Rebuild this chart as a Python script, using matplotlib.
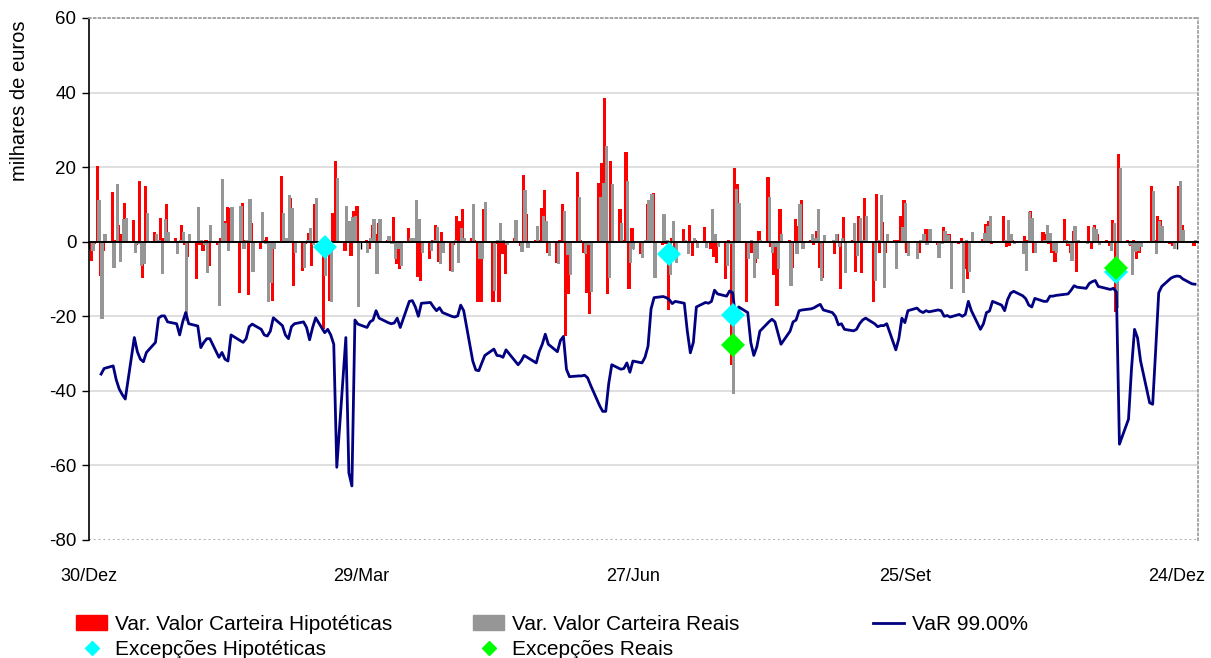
import matplotlib
matplotlib.use("Agg")
import matplotlib.pyplot as plt
import matplotlib.dates as mdates
import matplotlib.transforms as mtransforms
from matplotlib.lines import Line2D
from matplotlib.patches import Patch
import numpy as np
import pandas as pd

plt.rcParams["font.family"] = ["Liberation Sans", "DejaVu Sans"]
plt.rcParams["axes.unicode_minus"] = False

# daily portfolio value changes (thousands of euros), one value per business day
hyp_pnl = [
    -5.2, -0.5, 20.4, -9.2, -2.5, 13.2, 0.5, 4.4, 2, 10.4, 5.8, -1, 16.3, -9.6, 14.9, 2.5, 0, 6.4, 1, 10, 1, 0, 4.5, -1, -4, -9.9, -1, -2.5, 0.5, -6.5, -1, 1, 5.6, 9.3,
    9.1, -13.7, 10.4, 0.5, -14.4, 5, -2, 0.5, 1.3, -7.9, -15.9, 17.6, 0.5, 1, 11.8, -11.9, -7.9, -0.5, 2.4, -6.5, 10, -23.5, -3, -16, 7.6, 21.6, -2.5, 1, -3.8, 8.2, 9.6, 0.5, -2,
    4.6, 2, 5.1, 0.5, 0.3, 6.6, -6.1, -7.4, 3.8, 0.5, 1, -9.5, -10.5, -4.7, 0.5, 4.6, -5.4, 2.6, -7.9, -1, 7, 5.5, 8.7, 1, 0.5, -16.3, -16.3, 8.8, -16.3, -0.5, -16.3, -3.2, -8.6,
    1, -0.3, -1.2, 17.8, 7.3, 0.5, 0.5, 9.1, 13.8, -2.9, -5.6, 0.5, 10, -25.3, -14.1, 18.7, 0.5, -2.9, -13.8, -19.5, 15.8, 21.2, 38.6, -14.1, 21.6, 8.7, 0.5, 24, -12.8, 3.8, -3.4, 0.3, 10,
    0.5, 13.1, -1, -0.5, -18.4, 1, -4.7, 3.3, 0, 4.6, -3.8, 0.5, 4, 0.3, -2, -4, -5.6, -10, 0.5, -33.1, 19.8, 15.4, -16.3, -3, -2.9, -5.6, 2.9, 17.4, -1.5, -9, -17.2, 8.7, 0.5,
    -7, 6.2, 4.2, 11.1, 0.5, -1, 2.9, -7, -9.6, 0.3, -3.4, 2, -12.8, 6.6, 0.5, -8.1, 7, -8.3, 11.8, -16.2, 12.9, -2.9, 5.3, -2.9, 0.5, 0.5, 6.9, 11.1, -3.1, 0.3, -2.9, 0.5, 3.3,
    3.3, -1, 0.3, 4, 2, 2, -0.5, 1, -7.2, -10.1, 0.3, 0.3, 0.6, 4.8, 5.5, -0.7, 0.3, 6.9, -1.4, -1.2, 0.5, 0.3, 1.5, 0.5, 8.2, -2.9, 2.6, 2.2, -0.5, -2.9, -5.4, 6, -1.2,
    -3, 2.9, -8.1, 0.3, 4.2, -1.9, 4.6, 2.1, 0.5, -1.2, 5.7, -18.8, 23.4, 0.5, -1.2, 0.5, -4.6, -2.9, 0.3, 14.9, 0.5, 6.9, 5.8, -0.5, -1.2, 0.3, 14.9, 4.4, 0.3, -1.2,
]
real_pnl = [
    -2.5, 0.3, 11.3, -20.6, 2, -7, 15.5, -5.5, 6.2, 6.4, -3, -0.5, -6.5, -6, 7.6, 2, 0.5, -8.6, 6, 2.5, -3.4, 0.5, 2.5, -21.2, 2, 9.4, 0.5, -1, -8.3, 4.6, -17.2, 16.7, 5, -2.5,
    9.4, 9.7, -1.9, 0.5, 11.5, -8.1, 7.9, -0.5, -16.3, -11, -2, 7.6, 1, 12.4, 9.1, -3, -7, 0.5, 3.8, -1, 11.8, -9.2, 0.5, -16.2, 0, 17.1, 9.6, 5.5, 6.7, 7, -17.4, -3, 1,
    6.2, -8.6, 6.2, 1.5, -0.5, -4.7, -2, -6.5, 1, 1, 11.1, 6.2, -3, -2.5, 0.5, 4, -6, -3, -8.1, 0.5, -5.6, 3.8, 1, 10, 0.3, -4.7, -4.7, 10.6, -13.2, 0.5, 5, 0.5, -1,
    5.8, 0.3, -2.8, 13.8, -1.8, 4.2, 0, 6.9, 5.6, -3.8, -6.1, 0.3, 8.2, -3.5, -8.8, 12.1, 0.3, -3.4, -1, -13.5, 12.1, 15.8, 25.6, -9.6, 15.4, 5.1, 0.3, 16.3, -5.6, -2, -4.3, 0.5, 11.3,
    12.7, -9.6, 7.3, 0.5, -8.8, 5.5, -5.6, 0.5, -3.4, 0, 1, -1.6, -1.6, 0.3, 8.9, 2, -1.5, -6.5, -0.5, -40.9, 14.2, 10.3, -4.7, 0.5, -9.6, -4.7, 0.5, 12.1, -2.9, -1.5, -7.4, 2, -11.9,
    0.3, -3.2, 10, -2, 2, 1, 8.7, -10.5, 1.7, 0.5, 2, -1.5, 1, -8.3, 5.1, -3.8, 6.4, 0.5, 6.9, -10.5, 0.5, 12.4, -12.3, 2.2, -7.4, 0.3, 4, 10.4, -3.8, -4.7, 0.5, 2.2, -1,
    3.3, -4.3, -0.5, 2.9, 1.8, -12.6, -0.3, -13.8, 0.5, -8.1, 2.6, 0.2, 2.4, 4.2, 6.9, 0.3, 0.2, 0.5, 5.8, 2, -0.5, -3.4, -7.9, 7.9, 6.4, -2.9, 0.5, 4.6, 2.4, -2.5, -2.9, 0.5, -0.5,
    -5.2, 4.2, 0.5, -0.5, 0.3, 4, 3.3, -1, 0.3, -2.5, 5.1, -17.7, 19.8, -1, -8.8, -2.7, -2.5, -1.5, 0.2, 13.6, -3.4, 5.5, 4.2, 0.3, -2, 0.2, 16.3, 3.1, 0.2, 0.5,
]
var_99 = [
    None, None, None, -35.5, -34, -33.3, -37, -39.5, -41, -42.2, -25.7, -29.5, -31.5, -32.2, -29.7, -27, -20.5, -19.9, -19.9, -21.5, -22, -25, -21.5, -19, -22, -22.6, -28.4, -27, -26, -26, -31, -29.7, -31.5, -32,
    -25, -26.5, -27, -26, -22.8, -22.1, -23.5, -25, -25.3, -24, -20.4, -22.5, -25, -26, -22.8, -22, -21.5, -23, -26.3, -23, -20.4, -24.4, -23.5, -25, -27.5, -60.5, -25.7, -62, -65.5, -21, -22.1, -23, -21.5,
    -21, -18.5, -20.5, -21.7, -22, -21.8, -20.5, -23, -16, -15.8, -17.5, -20, -16.5, -16.3, -17.5, -18.5, -17.7, -19, -20, -20.2, -19.9, -17, -18.5, -32, -34.4, -34.6, -32.5, -30.5, -28.8, -30.5, -30.6, -31, -29,
    -32, -33, -32, -30.5, -31, -32.5, -29.5, -27.5, -24.8, -27.5, -29.5, -26.5, -25.4, -34.2, -36.2, -36, -36, -35.8, -36.5, -38.5, -44, -45.5, -45.5, -38, -33, -34.2, -34, -32.5, -35, -32, -32.5, -31, -28,
    -18, -15, -14.7, -15, -15.5, -16.6, -16, -16.5, -24, -29.8, -27, -17.5, -16.3, -16.5, -16, -13, -14, -14.6, -13.2, -13.7, -20.5, -17.5, -19, -27, -30.5, -28.2, -24, -21.5, -20.8, -21.5, -24.5, -27.5, -24,
    -21.5, -21, -18.5, -18.3, -18, -17.7, -17.2, -16.8, -18.3, -19, -20, -22.3, -22, -23.5, -23.9, -23.5, -22, -21, -20.5, -22, -22.8, -22.5, -22.5, -22, -29, -26, -20.5, -21.7, -18.5, -17.8, -18.6, -19, -18.5,
    -18.8, -18.3, -18.5, -20, -19.8, -20.2, -19.5, -20, -19.5, -16, -18.5, -23.5, -22, -19, -18.6, -16, -17, -18.5, -15.5, -13.8, -13.3, -14.5, -15.3, -17, -17.5, -15.2, -16, -16, -14.6, -14.6, -14.4, -14.1, -14,
    -13, -11.8, -12.2, -12.5, -11.2, -10.7, -10.4, -12, -12.6, -12.8, -12.5, -13.5, -54.3, -47.6, -34, -23.5, -25.8, -32, -43.2, -43.6, -29, -13.7, -12, -9.8, -9.4, -9.2, -9.3, -10, -11.3, -11.4,
]

# backtesting exceptions
exc_hyp_dates = ["2008-03-17", "2008-07-09", "2008-07-30", "2008-12-04"]
exc_hyp_vals = [-1.3, -3.3, -19.6, -8.2]
exc_real_dates = ["2008-07-30", "2008-12-04"]
exc_real_vals = [-27.8, -7.1]

tick_dates = ["2007-12-30", "2008-03-29", "2008-06-27", "2008-09-25", "2008-12-24"]
tick_labels = ["30/Dez", "29/Mar", "27/Jun", "25/Set", "24/Dez"]
x_start, x_end = "2007-12-30", "2008-12-31"

days = pd.bdate_range("2007-12-31", periods=len(hyp_pnl))
x = mdates.date2num(days)
var_arr = np.array(var_99, dtype=float)

RED = "#FF0000"
GREY = "#969696"
NAVY = "#000080"
CYAN = "#00FFFF"
GREEN = "#00FF00"

fig = plt.figure(figsize=(12.11, 6.58), dpi=100)
ax = fig.add_axes([89 / 1211, 1 - 540 / 658, 1109 / 1211, 522 / 658])

ax.bar(x - 0.3, hyp_pnl, width=1.05, color=RED, linewidth=0, zorder=1)
ax.bar(x + 0.3, real_pnl, width=1.05, color=GREY, linewidth=0, zorder=1.1)
ax.plot(x, var_arr, color=NAVY, linewidth=2, zorder=3)
ax.plot(mdates.date2num(pd.to_datetime(exc_hyp_dates)), exc_hyp_vals, ls="none",
        marker="D", markersize=12.5, color=CYAN, markeredgewidth=0, zorder=4)
ax.plot(mdates.date2num(pd.to_datetime(exc_real_dates)), exc_real_vals, ls="none",
        marker="D", markersize=12.5, color=GREEN, markeredgewidth=0, zorder=5)

ax.set_xlim(mdates.date2num(pd.Timestamp(x_start)), mdates.date2num(pd.Timestamp(x_end)))
ax.set_ylim(-80, 60)
ax.set_yticks(range(-80, 61, 20))
ax.tick_params(axis="y", direction="out", length=5, width=1, labelsize=13.5, pad=4)

# category axis sits on the zero line, labels at the bottom
tick_x = mdates.date2num(pd.to_datetime(tick_dates))
ax.set_xticks(tick_x)
ax.tick_params(axis="x", direction="out", length=5, width=1, labelbottom=False)
ax.spines["bottom"].set_position(("data", 0))
ax.spines["bottom"].set_linewidth(1.4)
ax.spines["bottom"].set_zorder(2.5)
trans = mtransforms.blended_transform_factory(ax.transData, ax.transAxes)
for tx, lab in zip(tick_x, tick_labels):
    ax.text(tx, -0.069, lab, transform=trans, ha="center", va="center", fontsize=13)

ax.spines["left"].set_linewidth(1.2)
for side in ("top", "right"):
    ax.spines[side].set_linestyle(":")
    ax.spines[side].set_color("#A0A0A0")
    ax.spines[side].set_linewidth(1.3)

ax.set_axisbelow(True)
ax.yaxis.grid(True, color="#DCDCDC", linewidth=1.3)
glines = ax.get_ygridlines()
for gl in (glines[0], glines[-1]):
    gl.set_linestyle(":")
    gl.set_color("#A0A0A0")

fig.text(20 / 1211, 1 - 101 / 658, "milhares de euros", rotation=90,
         ha="center", va="center", fontsize=14.5)

leg_kw = dict(loc="upper left", frameon=False, fontsize=15, handlelength=1.5,
              handletextpad=0.35, labelspacing=0.3, borderpad=0, borderaxespad=0)
fig.legend([Patch(color=RED), Line2D([], [], ls="none", marker="D", ms=7.5, color=CYAN)],
           ["Var. Valor Carteira Hipotéticas", "Excepções Hipotéticas"],
           bbox_to_anchor=(76 / 1211, 1 - 615 / 658), **leg_kw)
fig.legend([Patch(color=GREY), Line2D([], [], ls="none", marker="D", ms=7.5, color=GREEN)],
           ["Var. Valor Carteira Reais", "Excepções Reais"],
           bbox_to_anchor=(473 / 1211, 1 - 615 / 658), **leg_kw)
fig.legend([Line2D([], [], color=NAVY, lw=2)], ["VaR 99.00%"],
           bbox_to_anchor=(873 / 1211, 1 - 615 / 658), **leg_kw)

fig.savefig("out.png", dpi=100)
